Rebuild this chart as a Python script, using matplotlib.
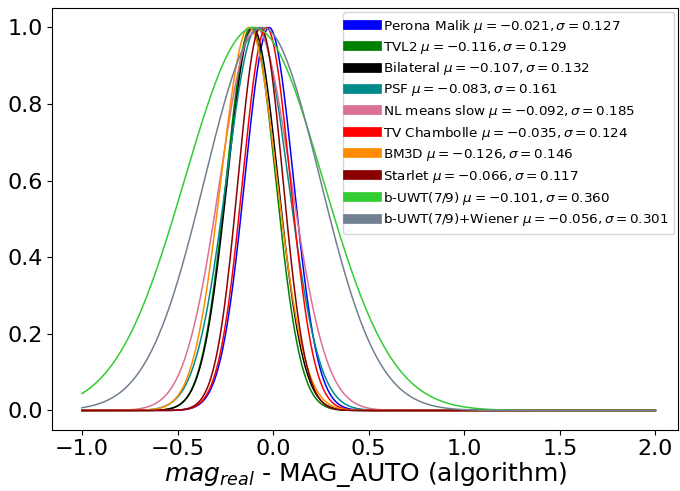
import numpy as np
import matplotlib
matplotlib.use("Agg")
import matplotlib.pyplot as plt

names = ["Perona Malik", "TVL2", "Bilateral", "PSF", "NL means slow",
         "TV Chambolle", "BM3D", "Starlet", "b-UWT(7/9)", "b-UWT(7/9)+Wiener"]
mus = [-0.021, -0.116, -0.107, -0.083, -0.092, -0.035, -0.126, -0.066, -0.101, -0.056]
sigmas = [0.127, 0.129, 0.132, 0.161, 0.185, 0.124, 0.146, 0.117, 0.360, 0.301]
colors = ["blue", "green", "black", "darkcyan", "palevioletred",
          "red", "darkorange", "darkred", "limegreen", "slategray"]

x = np.linspace(-1, 2, 600)

fig = plt.figure(figsize=(6.8, 4.91), dpi=100)
ax = fig.add_axes([0.0765, 0.125, 0.921, 0.858])

for name, mu, s, c in zip(names, mus, sigmas, colors):
    y = np.exp(-(x - mu)**2 / (2 * s**2))
    ax.plot(x, y, color=c, lw=1.1,
            label=r"%s $\mu = %.3f, \sigma = %.3f$" % (name, mu, s))

leg = ax.legend(loc="upper right", fontsize=9.7, handlelength=2.1,
                borderaxespad=0.3, labelspacing=0.36, handletextpad=0.5)
for h in leg.get_lines():
    h.set_linewidth(7)

ax.set_xlim(-1.157, 2.12)
ax.set_ylim(-0.05, 1.05)
ax.set_xticks([-1.0, -0.5, 0.0, 0.5, 1.0, 1.5, 2.0])
ax.set_yticks([0.0, 0.2, 0.4, 0.6, 0.8, 1.0])
ax.tick_params(labelsize=16, pad=3)
ax.set_xlabel(r"$mag_{real}$ - MAG_AUTO (algorithm)", fontsize=18, labelpad=1)

fig.savefig("out.png", dpi=100)
